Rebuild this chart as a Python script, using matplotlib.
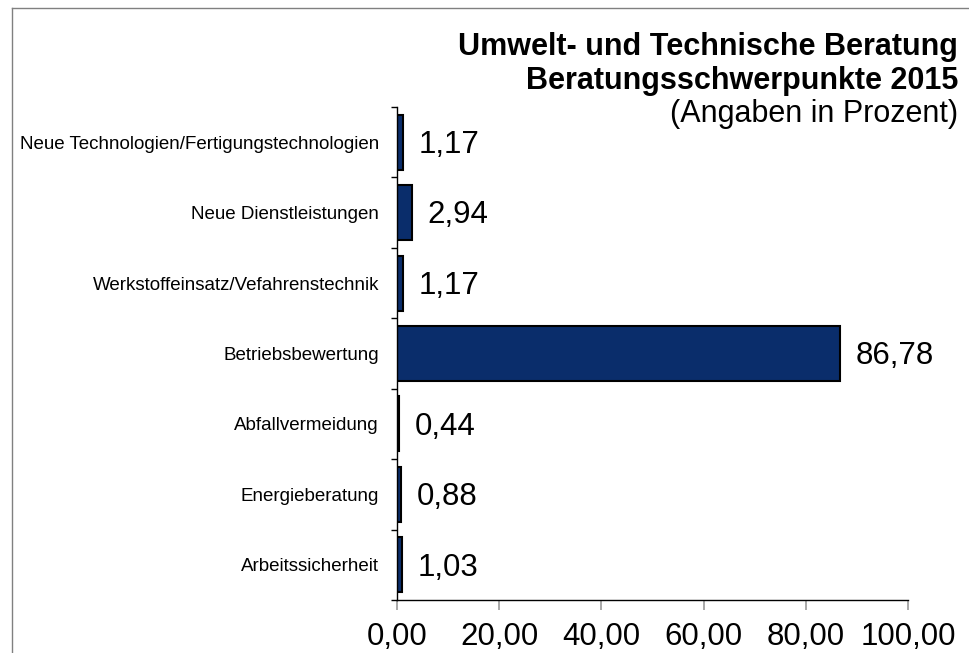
import matplotlib.pyplot as plt
from matplotlib.lines import Line2D

plt.rcParams['font.family'] = ['Liberation Sans', 'DejaVu Sans']

# Data (bottom to top)
categories = ["Arbeitssicherheit", "Energieberatung", "Abfallvermeidung",
              "Betriebsbewertung", "Werkstoffeinsatz/Vefahrenstechnik",
              "Neue Dienstleistungen", "Neue Technologien/Fertigungstechnologien"]
values = [1.03, 0.88, 0.44, 86.78, 1.17, 2.94, 1.17]
xticks = [0, 20, 40, 60, 80, 100]

fig = plt.figure(figsize=(9.7, 6.53), dpi=100)
ax = fig.add_axes([397/970, 1 - 600/653, (908 - 397)/970, (600 - 107)/653])

pos = list(range(len(categories)))
ax.barh(pos, values, height=0.78, color="#0a2d6b", edgecolor="black", linewidth=1.5)

for y, v in zip(pos, values):
    ax.annotate(f"{v:.2f}".replace(".", ","), (v, y), xytext=(11, -2),
                textcoords="offset points", ha="left", va="center", fontsize=22.5)

ax.set_xlim(0, 100)
ax.set_ylim(-0.5, len(categories) - 0.5)
ax.set_xticks(xticks)
ax.set_xticklabels([f"{t:.2f}".replace(".", ",") for t in xticks], fontsize=22.5)
ax.tick_params(axis="x", length=7.5, width=1.2, color="#999999", pad=8, direction="out")

ax.set_yticks(pos)
ax.set_yticklabels(categories, fontsize=13.5)
ax.tick_params(axis="y", which="major", length=0, pad=13)
ax.set_yticks([p - 0.5 for p in pos] + [len(categories) - 0.5], minor=True)
ax.tick_params(axis="y", which="minor", length=4.5, width=1, color="black")

for s in ["top", "right"]:
    ax.spines[s].set_visible(False)
ax.spines["left"].set_linewidth(1)
ax.spines["bottom"].set_linewidth(1)

# Titles
fig.text(958/970, 1 - 47/653, "Umwelt- und Technische Beratung", ha="right", va="center",
         fontsize=22, fontweight="bold")
fig.text(958/970, 1 - 81/653, "Beratungsschwerpunkte 2015", ha="right", va="center",
         fontsize=22, fontweight="bold")
fig.text(958/970, 1 - 114/653, "(Angaben in Prozent)", ha="right", va="center", fontsize=22)

# Outer frame (top and left edges visible)
fig.add_artist(Line2D([12/970, 1], [1 - 8/653, 1 - 8/653], color="#808080", lw=1))
fig.add_artist(Line2D([12/970, 12/970], [0, 1 - 8/653], color="#808080", lw=1))

fig.savefig("out.png", dpi=100)
